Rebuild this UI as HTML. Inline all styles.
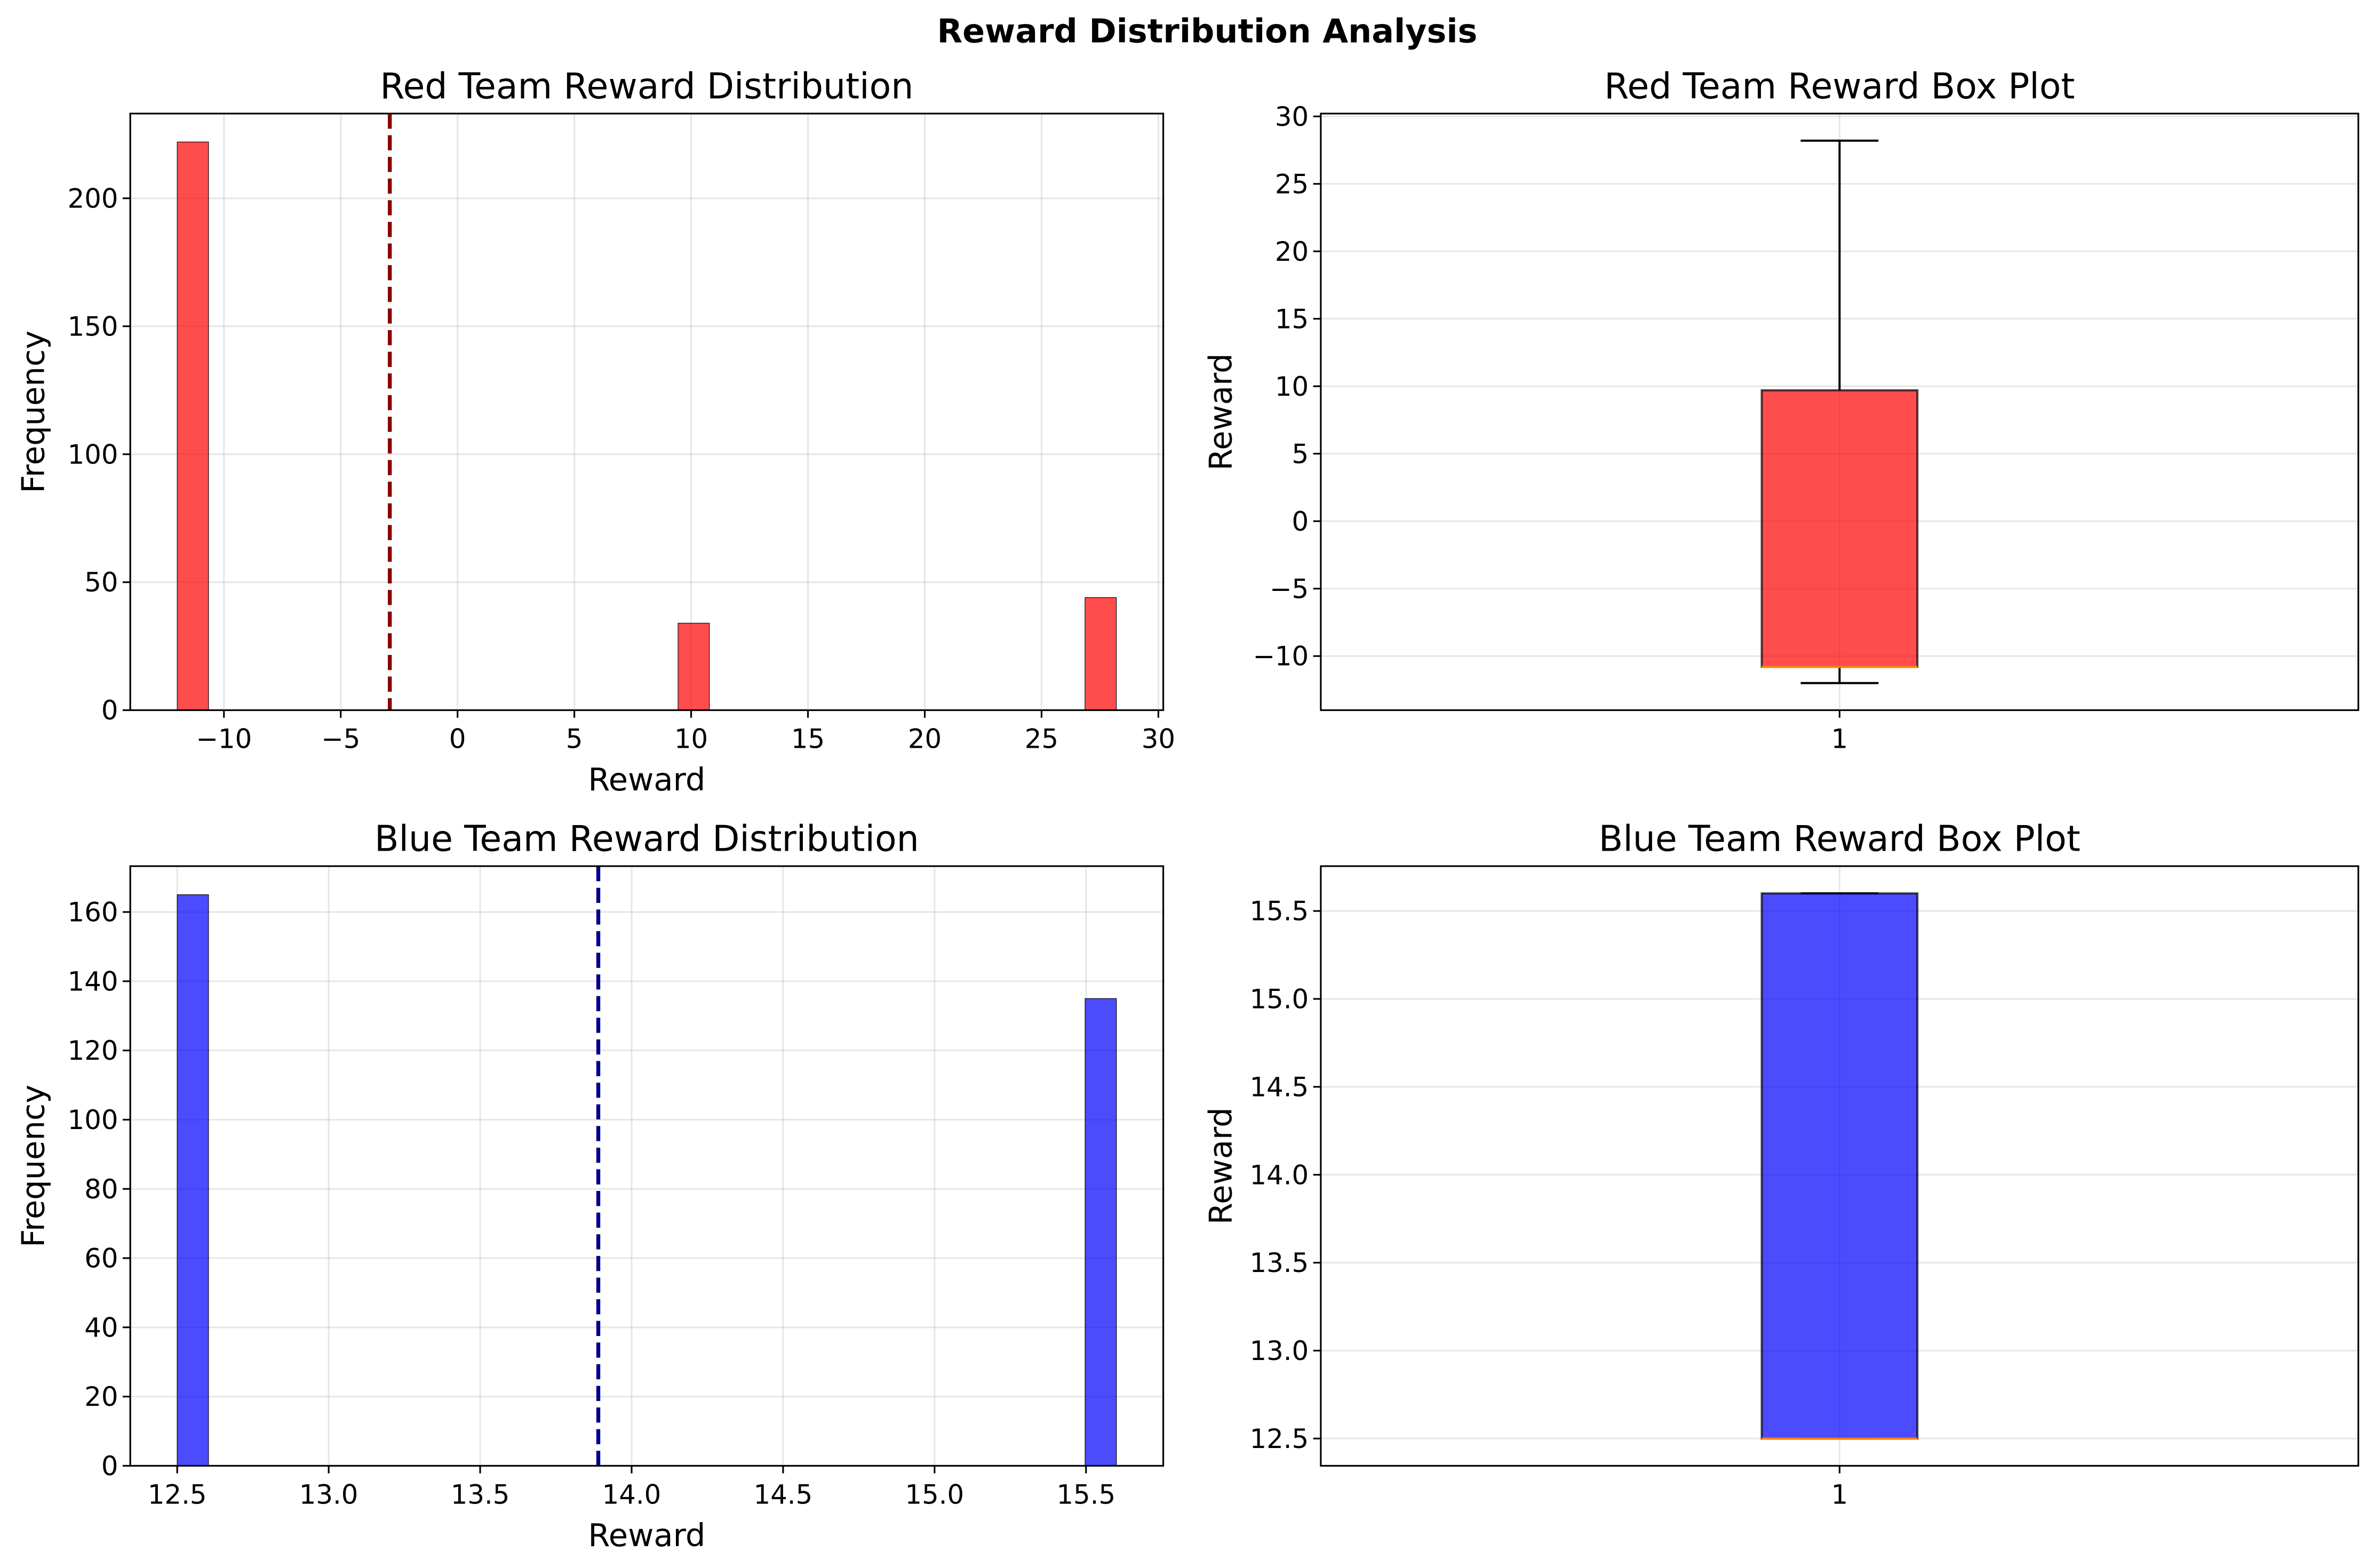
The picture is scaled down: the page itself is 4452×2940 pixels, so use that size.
<!DOCTYPE html>
<html><head><meta charset="utf-8"><style>
html,body{margin:0;padding:0;background:#fff}
svg{display:block}
text{font-family:"DejaVu Sans","Liberation Sans",sans-serif;fill:#000}
</style></head><body>
<svg id="fig" width="4452" height="2940" viewBox="0 0 1568 1035.5" preserveAspectRatio="none" xmlns="http://www.w3.org/2000/svg">
<text x="797" y="28" text-anchor="middle" font-size="21.8" font-weight="bold">Reward Distribution Analysis</text>
</svg>
<script>
// Red histogram data
const redBinStart = [-12, 9.44, 26.86];
const redBinWidth = [1.34, 1.34, 1.34];
const redCounts = [222, 34, 44];
const redMean = [-2.9];
const redXTicks = [-10, -5, 0, 5, 10, 15, 20, 25, 30];
const redYTicks = [0, 50, 100, 150, 200];
// Blue histogram data
const blueBinStart = [12.5, 15.497];
const blueBinWidth = [0.1033, 0.1033];
const blueCounts = [165, 135];
const blueMean = [13.89];
const blueXTicks = [12.5, 13.0, 13.5, 14.0, 14.5, 15.0, 15.5];
const blueYTicks = [0, 20, 40, 60, 80, 100, 120, 140, 160];
// Box plot stats: [whislo, q1, med, q3, whishi]
const redBox = [-12, -10.8, -10.8, 9.7, 28.2];
const blueBox = [12.5, 12.5, 12.5, 15.6, 15.6];
const redBoxTicks = [-10, -5, 0, 5, 10, 15, 20, 25, 30];
const blueBoxTicks = [12.5, 13.0, 13.5, 14.0, 14.5, 15.0, 15.5];

const NS = "http://www.w3.org/2000/svg";
const fig = document.getElementById('fig');
const TICK_FS = 17.5, LABEL_FS = 20.8, TITLE_FS = 23.4;
function mk(tag, attrs, parent) {
  const e = document.createElementNS(NS, tag);
  for (const k in attrs) e.setAttribute(k, attrs[k]);
  (parent || fig).appendChild(e);
  return e;
}
function fmt(v, dec) {
  const s = v.toFixed(dec);
  return s.replace('-', '\u2212');
}
function axesFrame(g, L, R, T, B, title, name) {
  const t = mk('text', {x: (L + R) / 2, y: T - 10, 'text-anchor': 'middle', 'font-size': TITLE_FS}, g);
  t.textContent = title;
  
  
}
function drawYAxis(g, L, R, ticks, ys, dec, name) {
  ticks.forEach(v => {
    const y = ys(v);
    const gl = mk('line', {x1: L, x2: R, y1: y, y2: y, stroke: '#b0b0b0', 'stroke-opacity': 0.3, 'stroke-width': 1.1}, g);
    
    
    mk('line', {x1: L - 5, x2: L, y1: y, y2: y, stroke: '#000', 'stroke-width': 1.1}, g);
    const t = mk('text', {x: L - 8, y: y + 6.2, 'text-anchor': 'end', 'font-size': TICK_FS}, g);
    t.textContent = fmt(v, dec);
    
    
  });
}
function drawXAxis(g, T, B, ticks, xs, dec, name, grid) {
  ticks.forEach(v => {
    const x = xs(v);
    if (grid) {
      const gl = mk('line', {x1: x, x2: x, y1: T, y2: B, stroke: '#b0b0b0', 'stroke-opacity': 0.3, 'stroke-width': 1.1}, g);
      
      
    }
    mk('line', {x1: x, x2: x, y1: B, y2: B + 5, stroke: '#000', 'stroke-width': 1.1}, g);
    const t = mk('text', {x: x, y: B + 25, 'text-anchor': 'middle', 'font-size': TICK_FS}, g);
    t.textContent = typeof dec === 'string' ? dec : fmt(v, dec);
    
    
  });
}
function spine(g, L, R, T, B) {
  mk('rect', {x: L, y: T, width: R - L, height: B - T, fill: 'none', stroke: '#000', 'stroke-width': 1.1}, g);
}
function labels(g, L, R, T, B, xl, yl, ylx) {
  if (xl) {
    const t = mk('text', {x: (L + R) / 2, y: B + 53, 'text-anchor': 'middle', 'font-size': LABEL_FS}, g);
    t.textContent = xl;
    
    
  }
  const cy = (T + B) / 2;
  const t2 = mk('text', {x: ylx, y: cy, 'text-anchor': 'middle', 'font-size': LABEL_FS, transform: 'rotate(-90 ' + ylx + ' ' + cy + ')'}, g);
  t2.textContent = yl;
  
  
}

function histogram(name, L, R, T, B, xmin, xmax, ymax, starts, widths, counts, mean, xt, yt, xdec, fill, meanColor, title) {
  const g = mk('g', {});
  
  
  const xs = v => L + (v - xmin) / (xmax - xmin) * (R - L);
  const ys = v => B - v / ymax * (B - T);
  axesFrame(g, L, R, T, B, title, name);
  drawXAxis(g, T, B, xt, xs, xdec, name, true);
  drawYAxis(g, L, R, yt, ys, 0, name);
  counts.forEach((c, i) => {
    const x0 = xs(starts[i]), x1 = xs(starts[i] + widths[i]);
    const r = mk('rect', {x: x0, y: ys(c), width: x1 - x0, height: B - ys(c), fill: fill, 'fill-opacity': 0.7, stroke: '#000', 'stroke-width': 0.4}, g);
    
    
  });
  mean.forEach(m => {
    const l = mk('line', {x1: xs(m), x2: xs(m), y1: T, y2: B, stroke: meanColor, 'stroke-width': 2.6, 'stroke-dasharray': '10,4.3'}, g);
    
    
  });
  spine(g, L, R, T, B);
  labels(g, L, R, T, B, 'Reward', 'Frequency', 29);
}

function boxplot(name, L, R, T, B, ymin, ymax, stats, yt, ydec, fill, title) {
  const g = mk('g', {});
  
  
  const xs = v => L + (v - 0.5) / 1.0 * (R - L);
  const ys = v => B - (v - ymin) / (ymax - ymin) * (B - T);
  axesFrame(g, L, R, T, B, title, name);
  drawYAxis(g, L, R, yt, ys, ydec, name);
  drawXAxis(g, T, B, [1], xs, '1', name, true);
  const [lo, q1, med, q3, hi] = stats;
  const cx = xs(1);
  const wl = mk('line', {x1: cx, x2: cx, y1: ys(q3), y2: ys(hi), stroke: '#000', 'stroke-width': 1.4}, g);
  
  
  const wl2 = mk('line', {x1: cx, x2: cx, y1: ys(q1), y2: ys(lo), stroke: '#000', 'stroke-width': 1.4}, g);
  
  
  [lo, hi].forEach(v => {
    const c = mk('line', {x1: xs(0.9625), x2: xs(1.0375), y1: ys(v), y2: ys(v), stroke: '#000', 'stroke-width': 1.4}, g);
    
    
  });
  const bx = mk('rect', {x: xs(0.925), y: ys(q3), width: xs(1.075) - xs(0.925), height: ys(q1) - ys(q3), fill: fill, 'fill-opacity': 0.7, stroke: '#000', 'stroke-opacity': 0.7, 'stroke-width': 1.4}, g);
  
  
  const md = mk('line', {x1: xs(0.925), x2: xs(1.075), y1: ys(med), y2: ys(med), stroke: '#ff7f0e', 'stroke-width': 1.4}, g);
  
  
  spine(g, L, R, T, B);
  labels(g, L, R, T, B, null, 'Reward', 813);
}

const redRange = [redBox[0] - 0.05 * (redBox[4] - redBox[0]), redBox[4] + 0.05 * (redBox[4] - redBox[0])];
histogram('red-histogram', 86, 768, 75, 469, redRange[0], redRange[1], Math.max(...redCounts) * 1.05,
  redBinStart, redBinWidth, redCounts, redMean, redXTicks, redYTicks, 0, '#ff0000', '#8b0000', 'Red Team Reward Distribution');
const blueRange = [blueBox[0] - 0.05 * (blueBox[4] - blueBox[0]), blueBox[4] + 0.05 * (blueBox[4] - blueBox[0])];
histogram('blue-histogram', 86, 768, 572, 968, blueRange[0], blueRange[1], Math.max(...blueCounts) * 1.05,
  blueBinStart, blueBinWidth, blueCounts, blueMean, blueXTicks, blueYTicks, 1, '#0000ff', '#00008b', 'Blue Team Reward Distribution');
boxplot('red-boxplot', 872, 1557, 75, 469, redRange[0], redRange[1], redBox, redBoxTicks, 0, '#ff0000', 'Red Team Reward Box Plot');
boxplot('blue-boxplot', 872, 1557, 572, 968, blueRange[0], blueRange[1], blueBox, blueBoxTicks, 1, '#0000ff', 'Blue Team Reward Box Plot');
</script>
</body></html>
